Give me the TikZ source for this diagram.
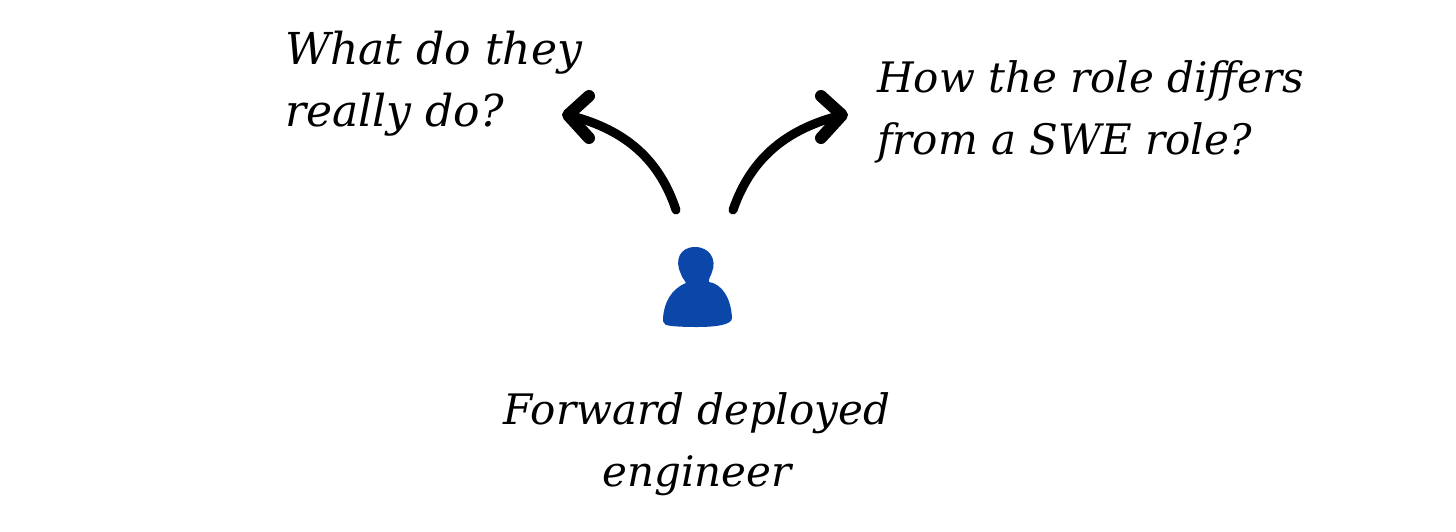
\documentclass[tikz,border=0pt]{standalone}
\usepackage{fontspec}
\setmainfont{DejaVu Serif}
\usetikzlibrary{positioning}
\tikzset{
  hand/.style={font=\itshape\fontsize{42}{62}\selectfont, align=left, inner sep=0pt},
  handbig/.style={hand, font=\itshape\fontsize{44}{62}\selectfont},
  bigarrow/.style={line width=9pt, line cap=round, line join=round},
  bighead/.style={line width=12pt, line cap=round, line join=round},
}
\definecolor{personblue}{HTML}{0A47A9}
\begin{document}
\begin{tikzpicture}[x=1pt,y=-1pt]
  \useasboundingbox (0,0) rectangle (1456,531);
  \fill[white] (0,0) rectangle (1456,531);

  % person
  \fill[personblue] (663,318) .. controls (664,303) and (671,289) .. (686,283)
    .. controls (684,279) and (682,278) .. (681,274)
    .. controls (674,260) and (680,247) .. (695,247)
    .. controls (710,247) and (717,260) .. (712,272)
    .. controls (711,276) and (708,279) .. (709,282)
    .. controls (722,284) and (731,298) .. (732,318)
    .. controls (732,325) and (715,327) .. (697,327)
    .. controls (680,327) and (665,326) .. (665,324)
    .. controls (663,323) and (663,321) .. (663,318) -- cycle;

  \node[handbig, anchor=west] (qa) at (285,84) {What do they\\really do?};
  \node[hand, anchor=west] (qb) at (877,112) {How the role differs\\from a SWE role?};
  \node[hand, align=center] (role) at (697,444) {Forward deployed\\engineer};

  \coordinate (La) at (676,210);
  \coordinate (Lb) at (568,115);
  \coordinate (Ra) at (733,210);
  \coordinate (Rb) at (842,115);

  \draw[bigarrow] (La) .. controls (658,155) and (620,128) .. (Lb);
  \draw[bighead] (589,96) -- (Lb) -- (589,138);
  \draw[bigarrow] (Ra) .. controls (752,155) and (790,128) .. (Rb);
  \draw[bighead] (821,96) -- (Rb) -- (821,138);
\end{tikzpicture}
\end{document}
